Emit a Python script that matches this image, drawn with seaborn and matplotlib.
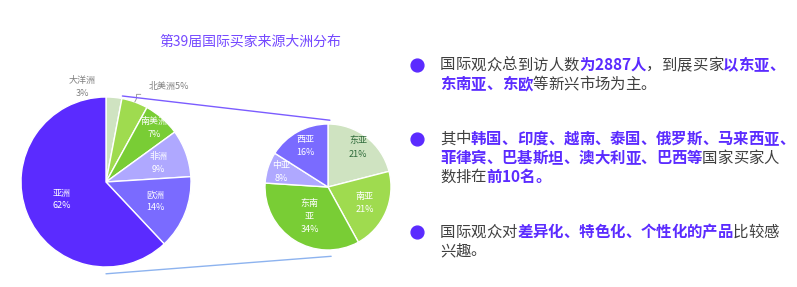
import matplotlib
matplotlib.use("Agg")
import matplotlib.pyplot as plt
import seaborn as sns
import numpy as np
from matplotlib.patches import ConnectionPatch
from matplotlib.font_manager import FontProperties

sns.set_theme(style="white")
FAMILY = ['Noto Sans CJK SC', 'DejaVu Sans']
plt.rcParams['font.family'] = FAMILY

# ---------------- data ----------------
title = "第39届国际买家来源大洲分布"
continents = ['大洋洲', '北美洲', '南美洲', '非洲', '欧洲', '亚洲']
continent_share = [3, 5, 7, 9, 14, 62]
asia_regions = ['东亚', '南亚', '东南亚', '中亚', '西亚']
asia_share = [21, 21, 34, 8, 16]

para1 = [[("国际观众总到访人数", 0), ("为2887人", 1), ("，到展买家", 0), ("以东亚、", 1)],
         [("东南亚、东欧", 1), ("等新兴市场为主。", 0)]]
para2 = [[("其中", 0), ("韩国、印度、越南、泰国、俄罗斯、马来西亚、", 1)],
         [("菲律宾、巴基斯坦、澳大利亚、巴西等", 1), ("国家买家人", 0)],
         [("数排在", 0), ("前10名。", 1)]]
para3 = [[("国际观众对", 0), ("差异化、特色化、个性化的产品", 1), ("比较感", 0)],
         [("兴趣。", 0)]]

# ---------------- style ----------------
main_colors = ['#cfe3c1', '#9fdb4f', '#79cd35', '#afa8ff', '#7a6bff', '#5b2bff']
asia_colors = ['#cfe3c1', '#9fdb4f', '#79cd35', '#afa8ff', '#7a6bff']
main_label_dist = [None, None, 0.85, 0.66, 0.62, 0.56]
asia_label_dist = [0.78, 0.63, 0.55, 0.78, 0.74]
asia_label_colors = ['#2f6b3b', 'white', 'white', 'white', 'white']
PURPLE = '#5b2bff'
GRAY = '#404040'
BODY_FS = 11.1

W, H = 797, 287
DPI = 100
fig = plt.figure(figsize=(W / DPI, H / DPI), dpi=DPI)
fig.patch.set_facecolor('white')


def px_axes(cx, cy, r):
    return fig.add_axes([(cx - r) / W, (H - cy - r) / H, 2 * r / W, 2 * r / H])


# main pie
ax1 = px_axes(106, 182, 85)
w1, _ = ax1.pie(continent_share, colors=main_colors, startangle=90, counterclock=False,
                wedgeprops=dict(edgecolor='white', linewidth=1.0))
ax1.set_xlim(-1, 1); ax1.set_ylim(-1, 1); ax1.set_aspect('equal'); ax1.axis('off')
for wdg, name, val, d in zip(w1, continents, continent_share, main_label_dist):
    if d is None:
        continue
    ang = np.deg2rad((wdg.theta1 + wdg.theta2) / 2)
    ax1.text(d * np.cos(ang), d * np.sin(ang), f"{name}\n{val}%", ha='center', va='center',
             color='white', fontsize=6.5, linespacing=1.5)
# outside labels for the two smallest slices
ax1.text(-0.28, 1.12, f"{continents[0]}\n{continent_share[0]}%", ha='center', va='center',
         color='#7f7f7f', fontsize=6.5, linespacing=1.5)
ax1.text(0.5, 1.12, f"{continents[1]}{continent_share[1]}%", ha='left', va='center',
         color='#7f7f7f', fontsize=6.5)
ang_na = np.deg2rad((w1[1].theta1 + w1[1].theta2) / 2)
x0, y0 = np.cos(ang_na) * 1.0, np.sin(ang_na) * 1.0
ax1.plot([x0, x0 + 0.02, x0 + 0.02, x0 + 0.07], [y0, y0 + 0.04, y0 + 0.09, y0 + 0.09],
         color='#a0a0a0', lw=0.7, clip_on=False)

# asia pie
ax2 = px_axes(328, 187, 63)
w2, _ = ax2.pie(asia_share, colors=asia_colors, startangle=90, counterclock=False,
                wedgeprops=dict(edgecolor='white', linewidth=1.0))
ax2.set_xlim(-1, 1); ax2.set_ylim(-1, 1); ax2.set_aspect('equal'); ax2.axis('off')
for wdg, name, val, d, c in zip(w2, asia_regions, asia_share, asia_label_dist, asia_label_colors):
    ang = np.deg2rad((wdg.theta1 + wdg.theta2) / 2)
    nm = name if len(name) <= 2 else name[:2] + "\n" + name[2:]
    ax2.text(d * np.cos(ang), d * np.sin(ang), f"{nm}\n{val}%", ha='center', va='center',
             color=c, fontsize=6.5, linespacing=1.6)

# connector lines
ang_top = np.deg2rad(w1[0].theta1)
con1 = ConnectionPatch(xyA=(1.03 * np.cos(ang_top), 1.03 * np.sin(ang_top)), coordsA=ax1.transData,
                       xyB=(0.03, 1.06), coordsB=ax2.transData, color='#7b5cff', lw=1.0)
con2 = ConnectionPatch(xyA=(0.0, -1.08), coordsA=ax1.transData,
                       xyB=(0.05, -1.1), coordsB=ax2.transData, color='#8db3ef', lw=1.0)
fig.add_artist(con1); fig.add_artist(con2)

# overlay axes in pixel coordinates for text
ov = fig.add_axes([0, 0, 1, 1])
ov.set_xlim(0, W); ov.set_ylim(H, 0); ov.axis('off')
ov.patch.set_alpha(0)

ov.text(250, 42, title, ha='center', va='center', color='#7448ff', fontsize=10)

renderer = fig.canvas.get_renderer()
PUNCT = set("，、。")


def char_adv(ch, bold, fs):
    if ord(ch) > 0x2E80:
        return fs * DPI / 72.0
    fp = FontProperties(family=FAMILY, weight='bold' if bold else 'normal', size=fs)
    wa, _, _ = renderer.get_text_width_height_descent("国" + ch + "国", fp, ismath=False)
    wb, _, _ = renderer.get_text_width_height_descent("国国", fp, ismath=False)
    return wa - wb


def rich_line(x, y, parts, fs=BODY_FS):
    for s, b in parts:
        kw = dict(va='center', fontsize=fs, color=PURPLE if b else GRAY,
                  fontweight='bold' if b else 'normal')
        for ch in s:
            adv = char_adv(ch, b, fs)
            if ch in PUNCT:
                ov.text(x, y, ch, ha='left', **kw)
            else:
                ov.text(x + adv / 2, y, ch, ha='center', **kw)
            x += adv


for para, ys, by in [(para1, [65, 84], 65), (para2, [139, 158, 177], 139), (para3, [232, 251], 232)]:
    ov.scatter([417], [by], s=85, color=PURPLE, zorder=3)
    for line, y in zip(para, ys):
        rich_line(440, y, line)

fig.savefig("out.png", dpi=DPI)
